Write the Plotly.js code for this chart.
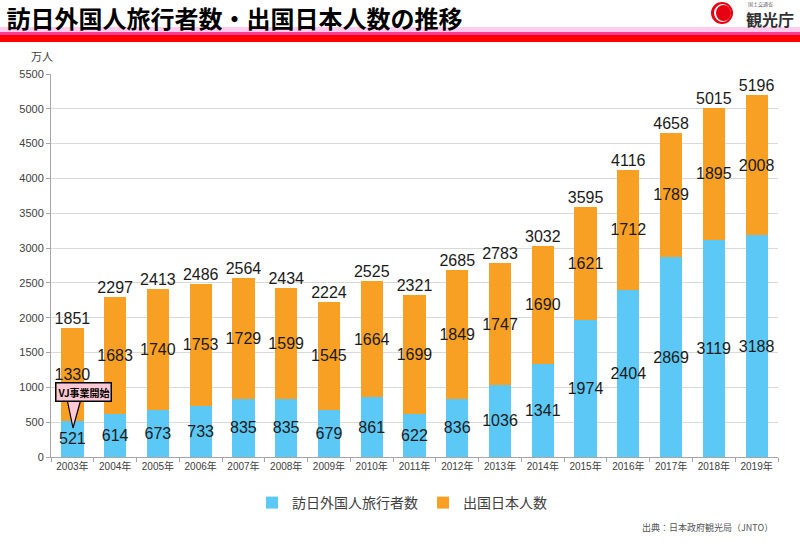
<!DOCTYPE html>
<html>
<head>
<meta charset="utf-8">
<script src="https://cdn.plot.ly/plotly-3.0.1.min.js"></script>
<style>html,body{margin:0;padding:0;background:#fff;}#chart{width:800px;height:548px;}</style>
</head>
<body>
<div id="chart"></div>
<script>
const years = ['2003年','2004年','2005年','2006年','2007年','2008年','2009年','2010年','2011年','2012年','2013年','2014年','2015年','2016年','2017年','2018年','2019年'];
const inbound = [521,614,673,733,835,835,679,861,622,836,1036,1341,1974,2404,2869,3119,3188];
const outbound = [1330,1683,1740,1753,1729,1599,1545,1664,1699,1849,1747,1690,1621,1712,1789,1895,2008];
const totals = [1851,2297,2413,2486,2564,2434,2224,2525,2321,2685,2783,3032,3595,4116,4658,5015,5196];
const seriesNames = ['訪日外国人旅行者数','出国日本人数'];
const yTicks = [0,500,1000,1500,2000,2500,3000,3500,4000,4500,5000,5500];

const NUM = 'Liberation Sans, Arial, Noto Sans CJK JP, sans-serif';
const JP = 'Noto Sans CJK JP, sans-serif';

const traces = [
  {type:'bar', name:seriesNames[0], x:years, y:inbound, marker:{color:'#5BC8F5'},
   text:inbound.map(String), textposition:'inside', insidetextanchor:'middle', textangle:0,
   constraintext:'none', textfont:{family:NUM, size:16, color:'#1a1a1a'}, hoverinfo:'skip'},
  {type:'bar', name:seriesNames[1], x:years, y:outbound, marker:{color:'#F8A024'},
   text:outbound.map(String), textposition:'inside', insidetextanchor:'middle', textangle:0,
   constraintext:'none', textfont:{family:NUM, size:16, color:'#1a1a1a'}, hoverinfo:'skip'},
  {type:'scatter', mode:'text', x:years, y:totals, text:totals.map(String), textposition:'top center',
   textfont:{family:NUM, size:16, color:'#1a1a1a'}, showlegend:false, cliponaxis:false, hoverinfo:'skip'}
];

// paper coordinate helpers (plot area: x 51..778, y 74..457)
const px = v => (v-51)/727;
const py = v => (457-v)/383;

const shapes = [
  {type:'rect', xref:'paper', yref:'paper', x0:px(0), x1:px(800), y0:py(32), y1:py(27), fillcolor:'#FFCDEB', line:{width:0}, layer:'above'},
  {type:'rect', xref:'paper', yref:'paper', x0:px(0), x1:px(800), y0:py(35), y1:py(32), fillcolor:'#FF3D99', line:{width:0}, layer:'above'},
  {type:'rect', xref:'paper', yref:'paper', x0:px(0), x1:px(800), y0:py(42), y1:py(35), fillcolor:'#FF0000', line:{width:0}, layer:'above'},
  // logo
  {type:'circle', xref:'paper', yref:'paper', x0:px(711), x1:px(733), y0:py(24), y1:py(2), fillcolor:'#E60012', line:{width:0}, layer:'above'},
  {type:'circle', xref:'paper', yref:'paper', x0:px(714), x1:px(731), y0:py(22), y1:py(4), fillcolor:'#FFFFFF', line:{width:0}, layer:'above'},
  {type:'circle', xref:'paper', yref:'paper', x0:px(716), x1:px(731), y0:py(21), y1:py(5), fillcolor:'#E60012', line:{width:0}, layer:'above'},
  // callout tail
  {type:'path', xref:'paper', yref:'paper', layer:'above',
   path:'M '+px(67)+' '+py(399)+' L '+px(73)+' '+py(428)+' L '+px(81)+' '+py(399)+' Z',
   fillcolor:'#FFC9D6', line:{color:'#000', width:1.2}}
];

const annotations = [
  {xref:'paper', yref:'paper', x:px(42), y:py(56), xanchor:'center', yanchor:'middle', text:'万人', showarrow:false, font:{family:JP, size:11, color:'#404040'}},
  {xref:'paper', yref:'paper', x:px(83.5), y:py(392), xanchor:'center', yanchor:'middle', text:'<b>VJ事業開始</b>', showarrow:false,
   bgcolor:'#FFC9D6', bordercolor:'#000', borderwidth:1.5, borderpad:1, font:{family:JP, size:10, color:'#000'}},
  {xref:'paper', yref:'paper', x:px(775), y:py(527), xanchor:'right', yanchor:'middle', text:'出典：日本政府観光局（JNTO）', showarrow:false, font:{family:JP, size:9, color:'#555'}},
  {xref:'paper', yref:'paper', x:px(746), y:py(4), xanchor:'left', yanchor:'middle', text:'国土交通省', showarrow:false, font:{family:JP, size:5, color:'#666'}},
  {xref:'paper', yref:'paper', x:px(744), y:py(18.5), xanchor:'left', yanchor:'middle', text:'<b>観光庁</b>', showarrow:false, font:{family:JP, size:16, color:'#333'}}
];

const layout = {
  width:800, height:548,
  paper_bgcolor:'#fff', plot_bgcolor:'#fff',
  margin:{l:51, r:22, t:74, b:91},
  barmode:'stack', bargap:0.48,
  showlegend:true,
  title:{text:'<b>訪日外国人旅行者数・出国日本人数の推移</b>', xref:'container', yref:'container', x:0.008, xanchor:'left', y:1-20/548, yanchor:'middle',
         font:{family:JP, size:24, color:'#000'}},
  legend:{orientation:'h', x:px(402), xanchor:'center', y:py(503), yanchor:'middle', traceorder:'normal',
          font:{family:JP, size:14, color:'#404040'}, itemwidth:30},
  xaxis:{type:'category', range:[-0.5, years.length-0.5], autorange:false, tickangle:0,
         tickfont:{family:NUM, size:10, color:'#404040'}, showline:true, linecolor:'#A6A6A6', linewidth:1,
         ticks:'outside', tickson:'boundaries', ticklen:4, tickcolor:'#A6A6A6', showgrid:false, fixedrange:true},
  yaxis:{range:[0,5500], autorange:false, tickvals:yTicks, ticktext:yTicks.map(String), tickfont:{family:NUM, size:11, color:'#404040'},
         showline:true, linecolor:'#A6A6A6', linewidth:1, ticks:'outside', ticklen:4, tickcolor:'#A6A6A6',
         showgrid:true, gridcolor:'#D9D9D9', gridwidth:1, zeroline:false, fixedrange:true},
  shapes:shapes, annotations:annotations
};

Plotly.newPlot('chart', traces, layout, {displayModeBar:false, staticPlot:true});
</script>
</body>
</html>
